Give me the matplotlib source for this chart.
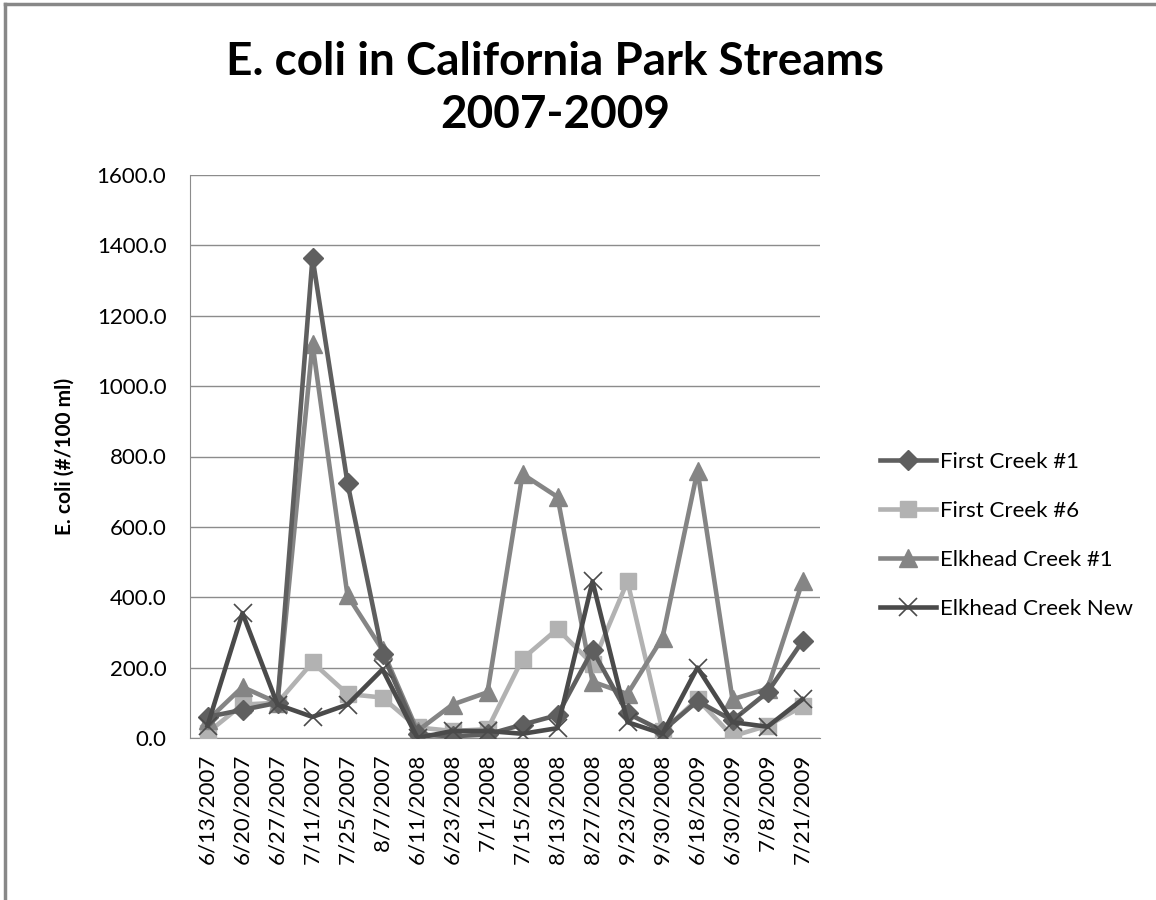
import matplotlib.pyplot as plt
import numpy as np

dates = ['6/13/2007', '6/20/2007', '6/27/2007', '7/11/2007', '7/25/2007', '8/7/2007',
         '6/11/2008', '6/23/2008', '7/1/2008', '7/15/2008', '8/13/2008', '8/27/2008',
         '9/23/2008', '9/30/2008', '6/18/2009', '6/30/2009', '7/8/2009', '7/21/2009']

first_creek_1 = [60, 80, 100, 1365, 725, 240, 10, 5, 10, 38, 65, 250, 70, 20, 105, 50, 130, 275]
first_creek_6 = [15, 95, 100, 215, 125, 115, 30, 20, 25, 225, 310, 210, 445, 20, 110, 5, 35, 90]
elkhead_1 = [50, 145, 100, 1120, 405, 250, 20, 95, 130, 750, 685, 160, 125, 285, 760, 110, 140, 445]
elkhead_new = [35, 355, 95, 60, 95, 195, 0, 20, 20, 12, 28, 445, 45, 12, 200, 45, 32, 110]

plt.rcParams['font.family'] = ['Lato', 'DejaVu Sans']

fig = plt.figure(figsize=(11.56, 9), dpi=100)
ax = fig.add_axes([190/1156, 1-738/900, (820-190)/1156, (738-175)/900])

x = np.arange(len(dates))
ax.plot(x, first_creek_1, color='#5f5f5f', lw=3.3, marker='D', ms=10, label='First Creek #1', zorder=5)
ax.plot(x, first_creek_6, color='#b2b2b2', lw=3.3, marker='s', ms=11, label='First Creek #6', zorder=3)
ax.plot(x, elkhead_1, color='#858585', lw=3.3, marker='^', ms=13, label='Elkhead Creek #1', zorder=4)
ax.plot(x, elkhead_new, color='#4a4a4a', lw=3.3, marker='x', ms=13, mew=1.2, label='Elkhead Creek New', zorder=6)

ax.set_xlim(-0.5, len(dates) - 0.5)
ax.set_ylim(0, 1600)
ax.set_yticks(np.arange(0, 1601, 200))
ax.set_yticklabels(['%.1f' % v for v in np.arange(0, 1601, 200)], fontsize=16)
ax.set_xticks(x)
ax.set_xticklabels(dates, rotation=90, fontsize=16)
ax.tick_params(axis='y', length=0, pad=17)
ax.tick_params(axis='x', length=0, pad=11)
ax.yaxis.grid(True, color='#8c8c8c', lw=1)
ax.set_axisbelow(True)
for s in ['top', 'right']:
    ax.spines[s].set_visible(False)
for s in ['left', 'bottom']:
    ax.spines[s].set_color('#8c8c8c')

ax.set_ylabel('E. coli (#/100 ml)', fontsize=15, fontweight='bold', labelpad=16)

fig.text(555/1156, 1-62/900, 'E. coli in California Park Streams', ha='center', va='center',
         fontsize=33, fontweight='bold')
fig.text(555/1156, 1-115/900, '2007-2009', ha='center', va='center', fontsize=33, fontweight='bold')

fig.legend(loc='upper left', bbox_to_anchor=(860/1156, 1-432/900), frameon=False, fontsize=16,
           handlelength=2.5, labelspacing=1.3, handletextpad=0.2)

# outer frame
fig.add_artist(plt.Line2D([5/1156, 5/1156], [0, 1-4/900], color='#888888', lw=2.5))
fig.add_artist(plt.Line2D([5/1156, 1], [1-4/900, 1-4/900], color='#888888', lw=2.5))

fig.savefig('out.png', dpi=100)
